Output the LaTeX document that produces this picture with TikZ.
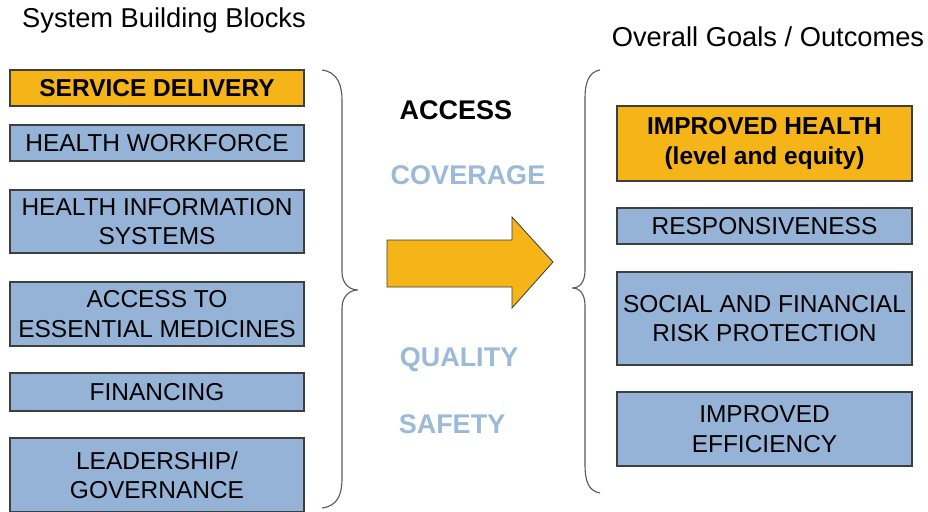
\documentclass[tikz,border=0pt]{standalone}
\usepackage{fontspec}
\setmainfont{Liberation Sans}
\usepackage{xcolor}
\usetikzlibrary{positioning}

\definecolor{blockblue}{HTML}{95B3D7}
\definecolor{blockorange}{HTML}{F5B418}
\definecolor{edgegray}{HTML}{3F3F3F}
\definecolor{wordblue}{HTML}{9BBAD9}

\begin{document}
\begin{tikzpicture}[x=0.025cm, y=-0.025cm,
  block/.style={draw=edgegray, line width=1pt, fill=blockblue, align=center,
    inner sep=0pt, minimum width=7.35cm,
    font=\fontsize{17.4}{20.8}\selectfont},
  goal/.style={block, minimum width=7.375cm},
  hot/.style={fill=blockorange, font=\fontsize{17.4}{20.8}\selectfont\bfseries},
  word/.style={font=\fontsize{19.2}{22}\selectfont\bfseries, text=wordblue},
  heading/.style={font=\fontsize{19.4}{22}\selectfont},
  brace/.style={draw=gray!70!black, line width=0.8pt}]
  \useasboundingbox (0,0) rectangle (928,512);

  % Titles
  \node[heading] (leftttl) at (164,20) {System Building Blocks};
  \node[heading] (rightttl) at (768,37) {Overall Goals / Outcomes};

  % System building blocks
  \node[block, hot, minimum height=0.9cm] (svc) at (157,88) {SERVICE DELIVERY};
  \node[block, minimum height=0.9cm] (workforce) at (157,143) {HEALTH WORKFORCE};
  \node[block, minimum height=1.575cm] (info) at (157,221.5) {HEALTH INFORMATION\\SYSTEMS};
  \node[block, minimum height=1.6cm] (meds) at (157,314) {ACCESS TO\\ESSENTIAL MEDICINES};
  \node[block, minimum height=0.95cm] (finance) at (157,392) {FINANCING};
  \node[block, minimum height=1.85cm] (lead) at (157,475) {LEADERSHIP/\\GOVERNANCE};

  % Left brace
  \draw[brace] (322,70) .. controls (338,72) and (342,86) .. (342,100)
    -- (342,272) .. controls (342,284) and (350,290) .. (358,290)
    .. controls (350,290) and (342,296) .. (342,308)
    -- (342,478) .. controls (342,494) and (338,506) .. (322,508);

  % Intermediate goals
  \node[font=\fontsize{19.2}{22}\selectfont\bfseries] (access) at (456,110) {ACCESS};
  \node[word] (coverage) at (468,175) {COVERAGE};
  \node[word] (quality) at (459,360) {QUALITY};
  \node[word] (safety) at (452,424) {SAFETY};

  % Big arrow
  \filldraw[fill=blockorange, draw=edgegray, line width=0.6pt]
    (387,240) -- (512,240) -- (512,217) -- (553,262)
    -- (512,308) -- (512,287) -- (387,287) -- cycle;

  % Right brace
  \draw[brace] (600,70) .. controls (588,72) and (585,84) .. (585,98)
    -- (585,270) .. controls (585,282) and (580,288) .. (572,288)
    .. controls (580,288) and (585,294) .. (585,306)
    -- (585,465) .. controls (585,480) and (588,491) .. (600,493);

  % Overall goals
  \node[goal, hot, minimum height=1.875cm] (health) at (764.5,143.5) {IMPROVED HEALTH\\(level and equity)};
  \node[goal, minimum height=0.9cm] (resp) at (764.5,226) {RESPONSIVENESS};
  \node[goal, minimum height=2.325cm] (risk) at (764.5,318.5) {SOCIAL AND FINANCIAL\\RISK PROTECTION};
  \node[goal, minimum height=1.85cm] (eff) at (764.5,429) {IMPROVED\\EFFICIENCY};
\end{tikzpicture}
\end{document}
